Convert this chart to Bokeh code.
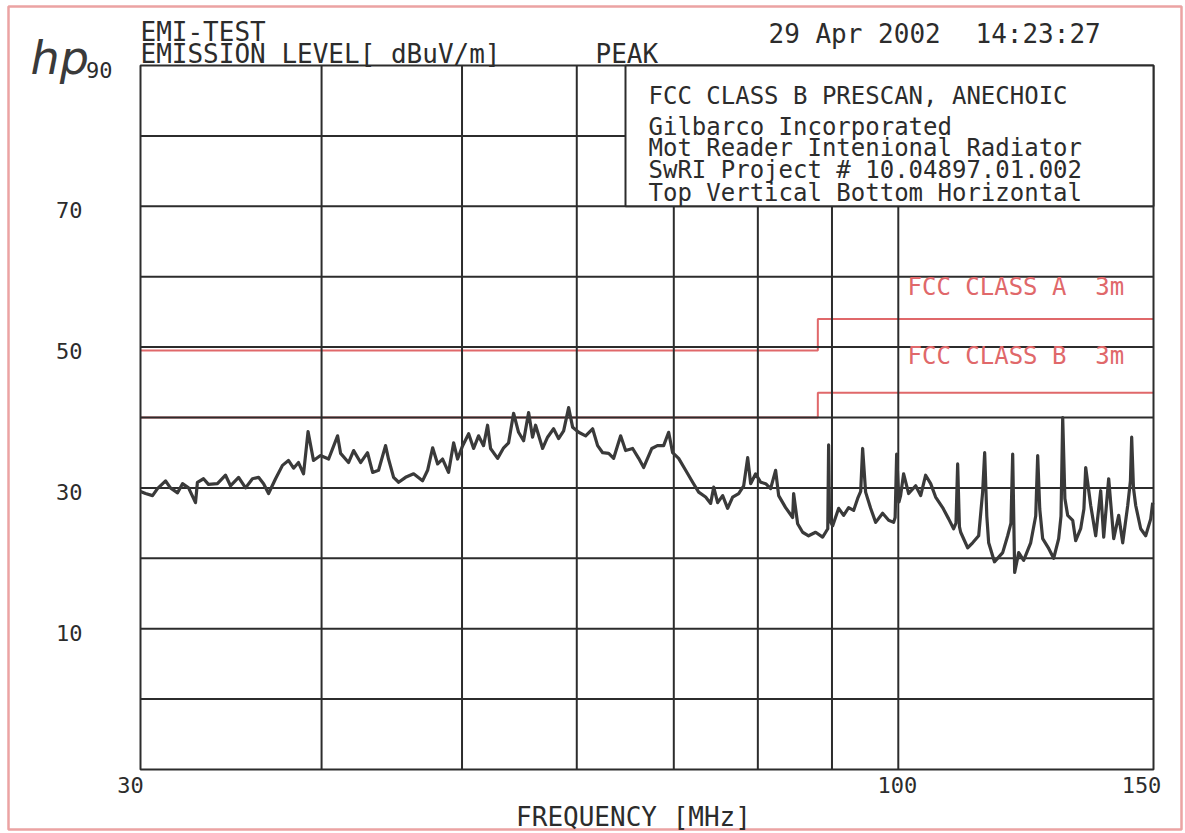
import math

from bokeh.core.properties import value
from bokeh.embed import file_html
from bokeh.models import Range1d
from bokeh.plotting import figure
from bokeh.resources import INLINE

# ---------------------------------------------------------------------------
# Measured emission trace (peak detector), frequency in MHz, level in dBuV/m
# ---------------------------------------------------------------------------
freq_mhz = [
    30.00, 30.24, 30.58, 30.82, 31.22, 31.46, 31.82, 32.07,
    32.38, 32.74, 32.84, 33.16, 33.42, 33.90, 34.34, 34.61,
    35.06, 35.45, 35.84, 36.19, 36.48, 36.77, 37.18, 37.59,
    37.95, 38.26, 38.56, 38.87, 39.15, 39.49, 39.93, 40.45,
    41.03, 41.23, 41.75, 42.09, 42.56, 43.03, 43.38, 43.79,
    44.28, 44.49, 44.85, 45.21, 45.71, 46.30, 46.96, 47.34,
    47.72, 48.10, 48.48, 48.94, 49.34, 49.65, 50.05, 50.53,
    50.93, 51.33, 51.74, 52.07, 52.32, 52.91, 53.42, 53.84,
    54.27, 54.70, 55.14, 55.58, 55.93, 56.20, 56.83, 57.28,
    57.83, 58.29, 58.76, 59.23, 59.61, 60.18, 60.85, 61.53,
    62.02, 62.52, 63.12, 63.62, 64.33, 64.84, 65.57, 66.20,
    66.73, 67.60, 68.20, 68.88, 69.43, 69.87, 70.54, 71.33,
    72.13, 72.82, 73.63, 74.22, 74.58, 75.05, 75.65, 76.25,
    76.86, 77.60, 78.22, 78.72, 79.09, 79.72, 80.36, 81.00,
    81.64, 82.29, 82.69, 83.61, 84.55, 84.68, 85.22, 85.90,
    86.72, 87.69, 88.67, 89.10, 89.40, 89.52, 89.65, 90.09,
    90.96, 91.68, 92.41, 93.15, 93.75, 94.20, 94.49, 94.94,
    95.70, 96.47, 97.54, 98.48, 99.26, 99.50, 99.74, 100.10,
    100.37, 100.85, 101.66, 102.80, 103.62, 104.44, 105.28, 106.11,
    107.30, 108.33, 109.19, 109.60, 109.89, 110.20, 110.42, 111.65,
    112.54, 113.62, 114.34, 114.71, 115.10, 115.44, 116.50, 118.04,
    118.98, 119.60, 119.93, 120.31, 121.08, 122.04, 123.41, 124.40,
    124.79, 125.20, 125.78, 126.99, 128.00, 129.02, 129.50, 129.85,
    130.30, 130.88, 131.93, 132.56, 133.61, 134.30, 134.68, 135.76,
    136.84, 137.93, 138.59, 139.69, 140.81, 141.93, 142.84, 143.98,
    144.60, 144.89, 145.30, 145.82, 146.98, 148.15, 149.34, 149.81,
]
level_dbuv = [
    29.5, 29.2, 28.9, 29.9, 31.0, 30.0, 29.3, 30.6,
    30.0, 27.9, 30.8, 31.3, 30.5, 30.6, 31.8, 30.3,
    31.5, 30.0, 31.3, 31.5, 30.6, 29.2, 31.3, 33.2,
    33.9, 32.8, 33.6, 32.0, 38.0, 33.9, 34.6, 34.1,
    37.4, 34.9, 33.6, 35.3, 33.6, 35.0, 32.2, 32.5,
    36.0, 34.1, 31.5, 30.8, 31.5, 32.0, 31.0, 32.5,
    35.7, 33.4, 34.1, 32.2, 36.4, 34.1, 36.0, 37.7,
    35.6, 37.4, 36.0, 38.9, 35.6, 34.2, 35.7, 36.4,
    40.6, 37.9, 36.7, 40.7, 37.2, 38.9, 35.6, 37.2,
    38.4, 37.0, 38.1, 41.4, 38.6, 37.9, 37.4, 38.4,
    36.0, 35.0, 34.9, 34.2, 37.4, 35.3, 35.6, 34.2,
    32.9, 35.6, 36.0, 36.0, 37.9, 35.0, 34.2, 32.5,
    30.8, 29.4, 28.7, 27.8, 30.1, 27.9, 28.9, 27.1,
    28.7, 29.2, 30.3, 34.3, 30.6, 32.0, 30.8, 30.6,
    29.9, 32.5, 28.9, 27.2, 25.8, 29.2, 24.9, 23.7,
    23.2, 23.7, 23.0, 23.7, 24.2, 36.1, 25.5, 24.6,
    27.1, 26.1, 27.2, 26.8, 28.5, 29.5, 35.6, 29.4,
    27.1, 25.1, 26.4, 25.4, 25.1, 25.8, 34.8, 28.0,
    28.9, 32.0, 29.2, 30.3, 28.9, 31.8, 30.6, 28.7,
    27.2, 25.6, 24.2, 25.0, 33.4, 24.5, 23.7, 21.5,
    22.2, 23.2, 29.4, 35.0, 26.0, 22.2, 19.5, 20.8,
    23.2, 25.0, 34.8, 18.0, 20.8, 19.7, 22.2, 26.0,
    34.6, 27.0, 22.8, 21.4, 20.0, 22.8, 26.0, 40.0,
    28.5, 26.1, 25.4, 22.5, 24.2, 27.0, 32.9, 27.5,
    23.2, 29.6, 23.0, 31.3, 22.8, 26.1, 22.2, 27.5,
    31.0, 37.2, 30.0, 27.5, 24.2, 23.2, 25.6, 27.9,
]

# FCC Part 15 radiated limits at 3 m (dBuV/m), step at 88 MHz
limit_freq_mhz = [30.0, 88.0, 88.0, 150.0]
class_a_3m_dbuv = [49.5, 49.5, 54.0, 54.0]
class_b_3m_dbuv = [40.0, 40.0, 43.5, 43.5]

x_grid_mhz = [40, 50, 60, 70, 80, 90, 100]
y_grid_dbuv = [0, 10, 20, 30, 40, 50, 60, 70, 80]
y_tick_values = [90, 70, 50, 30, 10]
y_tick_labels = ["90", "70", "50", "30", "10"]
x_tick_values = [30, 100, 150]
x_tick_labels = ["30", "100", "150"]

F_MIN, F_MAX = 30.0, 150.0
L_MIN, L_MAX = -10.0, 90.0

# ---------------------------------------------------------------------------
# Page geometry: the plotting frame fills the whole canvas, and the data
# ranges are stretched so the graticule sits where the plotter put it.
# ---------------------------------------------------------------------------
W, H = 1185, 833
FRAME_L, FRAME_R, FRAME_T, FRAME_B = 140, 1153, 65, 769

px_per_decade = (FRAME_R - FRAME_L) / math.log10(F_MAX / F_MIN)
px_per_db = (FRAME_B - FRAME_T) / (L_MAX - L_MIN)
x_start = F_MIN * 10 ** (-FRAME_L / px_per_decade)
x_end = F_MAX * 10 ** ((W - FRAME_R) / px_per_decade)
y_top = L_MAX + FRAME_T / px_per_db
y_bottom = L_MIN - (H - FRAME_B) / px_per_db


def fx(px):
    """Page pixel column -> frequency."""
    return x_start * 10 ** (px / px_per_decade)


def fy(py):
    """Page pixel row -> level."""
    return y_top - py / px_per_db


INK = "#2c2c2c"
TRACE = "#3a3a3a"
RED = "#e0686a"
PAGE_EDGE = "#eba3a3"
MONO = "DejaVu Sans Mono"
NBSP2 = "\u00a0\u00a0"

p = figure(
    width=W, height=H,
    x_range=Range1d(x_start, x_end), y_range=Range1d(y_bottom, y_top),
    x_axis_type="log", x_axis_location=None, y_axis_location=None,
    toolbar_location=None, output_backend="svg",
    min_border=0, outline_line_color=None,
    background_fill_color="white", border_fill_color="white",
)
p.grid.grid_line_color = None


def put(label, px, py, size, color=INK, align="left", baseline="alphabetic",
        font=MONO, style="normal"):
    p.text(x=[fx(px)], y=[fy(py)], text=[label],
           text_font=value(font), text_font_size=f"{size}px",
           text_font_style=style, text_color=color,
           text_align=align, text_baseline=baseline)


# page edge
p.quad(left=fx(8), right=fx(1181), top=fy(6), bottom=fy(829),
       fill_color=None, line_color=PAGE_EDGE, line_width=2.5)

# limit lines (under the graticule)
p.line(limit_freq_mhz, class_b_3m_dbuv, line_color=RED, line_width=2)
p.line(limit_freq_mhz, class_a_3m_dbuv, line_color=RED, line_width=2)

# graticule
p.segment(x0=x_grid_mhz, y0=L_MIN, x1=x_grid_mhz, y1=L_MAX,
          line_color=INK, line_width=2)
p.segment(x0=F_MIN, y0=y_grid_dbuv, x1=F_MAX, y1=y_grid_dbuv,
          line_color=INK, line_width=2)
p.quad(left=F_MIN, right=F_MAX, bottom=L_MIN, top=L_MAX,
       fill_color=None, line_color=INK, line_width=2)

# test description box
p.quad(left=fx(625), right=F_MAX, bottom=70, top=L_MAX,
       fill_color="white", line_color=INK, line_width=2)
put("FCC CLASS B PRESCAN, ANECHOIC", 648, 95, 24)
put("Gilbarco Incorporated", 648, 126, 24)
put("Mot Reader Intenional Radiator", 648, 147, 24)
put("SwRI Project # 10.04897.01.002", 648, 169, 24)
put("Top Vertical Bottom Horizontal", 648, 192, 24)

# limit labels
put("FCC CLASS A" + NBSP2 + "3m", 907, 286, 24, color=RED)
put("FCC CLASS B" + NBSP2 + "3m", 907, 355, 24, color=RED)

# emission trace
p.line(freq_mhz, level_dbuv, line_color=TRACE, line_width=3.2,
       line_join="round")

# header
put("hp", 30, 57, 46, color="#3a3a3a", font="DejaVu Sans", style="italic")
put("EMI-TEST", 140, 31, 26)
put("EMISSION LEVEL[ dBuV/m]", 140, 53, 26)
put("PEAK", 595, 53, 26)
put("29 Apr 2002", 768, 33, 26)
put("14:23:27", 975, 33, 26)

# axis labels
y_label_shift = [30, 0, 0, 0, 0]
p.text(x=fx(82), y=y_tick_values, text=y_tick_labels,
       x_offset=y_label_shift, y_offset=4,
       text_font=value(MONO), text_font_size="22px", text_color=INK,
       text_align="right", text_baseline="middle")

x_label_shift = [-10, -1, -12]
p.text(x=x_tick_values, y=fy(784), text=x_tick_labels,
       x_offset=x_label_shift,
       text_font=value(MONO), text_font_size="22px", text_color=INK,
       text_align="center", text_baseline="middle")

put("FREQUENCY [MHz]", 633, 816, 26, align="center", baseline="middle")

open("out.html", "w").write(file_html(p, INLINE))
